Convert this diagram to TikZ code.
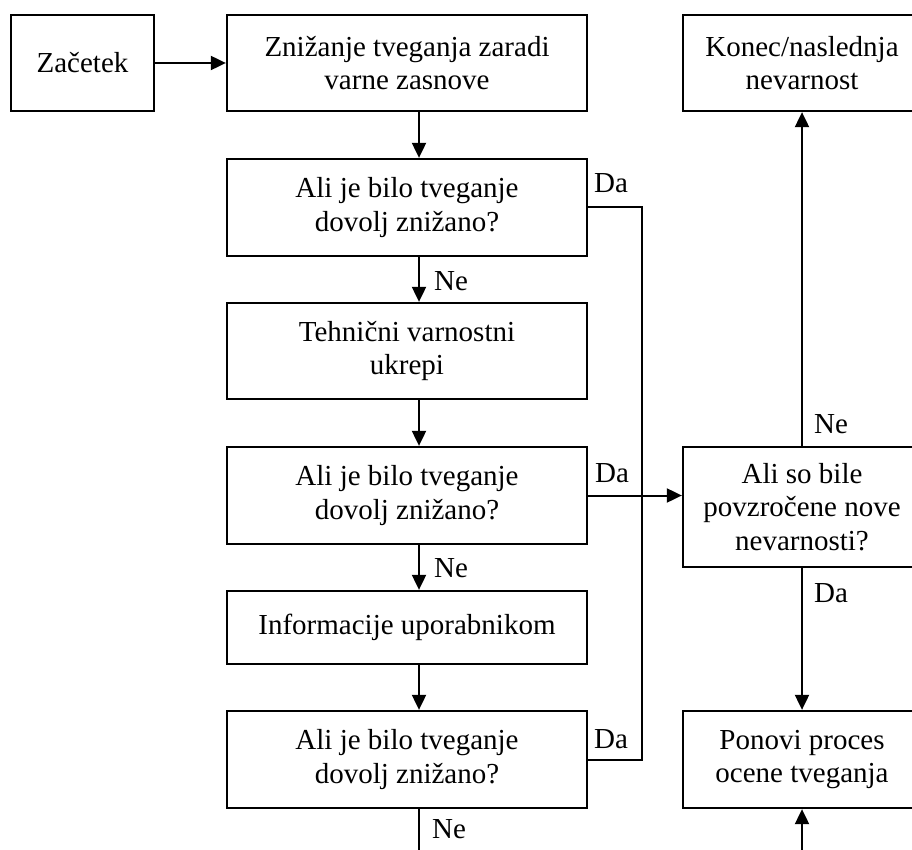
\documentclass[tikz,border=0pt]{standalone}
\usepackage{fontspec}
\setmainfont{Liberation Serif}
\usetikzlibrary{arrows.meta,calc}
\begin{document}
\begin{tikzpicture}[x=1pt,y=-1pt,
  txt/.style={font=\fontsize{29}{33.5}\selectfont},
  box/.style={draw,line width=2.3pt,inner sep=0pt,align=center,txt,minimum width=#1},
  box/.default=360pt,
  lbl/.style={inner sep=0pt,anchor=base west,txt},
  conn/.style={line width=2pt},
  arr/.style={conn,-{Triangle[length=15pt,width=14pt]}}]
\clip (0,0) rectangle (912,850);
\node[box=143pt,minimum height=96pt] (zac) at (82.5,63) {Začetek};
\node[box,minimum height=96pt] (zniz) at (407,63) {Znižanje tveganja zaradi\\varne zasnove};
\node[box,minimum height=97pt] (ali1) at (407,207.5) {Ali je bilo tveganje\\dovolj znižano?};
\node[box,minimum height=96pt] (teh) at (407,351) {Tehnični varnostni\\ukrepi};
\node[box,minimum height=97pt] (ali2) at (407,495.5) {Ali je bilo tveganje\\dovolj znižano?};
\node[box,minimum height=73pt] (info) at (407,627.5) {Informacije uporabnikom};
\node[box,minimum height=97pt] (ali3) at (407,759.5) {Ali je bilo tveganje\\dovolj znižano?};
\node[box=238pt,minimum height=96pt] (konec) at (802,63) {Konec/naslednja\\nevarnost};
\node[box=238pt,minimum height=120pt] (alisob) at (802,507) {Ali so bile\\povzročene nove\\nevarnosti?};
\node[box=238pt,minimum height=97pt] (ponovi) at (802,759.5) {Ponovi proces\\ocene tveganja};
\coordinate (ax) at (419,0);
\coordinate (vx) at (642,0);
\coordinate (endL) at (419,856);
\coordinate (startR) at (802,856);
\draw[arr] (zac.east) -- (zniz.west);
\draw[arr] (zniz.south -| ax) -- (ali1.north -| ax);
\draw[arr] (ali1.south -| ax) -- (teh.north -| ax);
\draw[arr] (teh.south -| ax) -- (ali2.north -| ax);
\draw[arr] (ali2.south -| ax) -- (info.north -| ax);
\draw[arr] (info.south -| ax) -- (ali3.north -| ax);
\draw[conn] (ali3.south -| ax) -- (endL);
\draw[conn] (ali1.east) -| (vx |- ali3.east) -- (ali3.east);
\draw[arr] (ali2.east) -- (ali2.east -| alisob.west);
\draw[arr] (alisob.north) -- (konec.south);
\draw[arr] (alisob.south) -- (ponovi.north);
\draw[arr] (startR) -- (ponovi.south);
\node[lbl] (da1) at (594,193) {Da};
\node[lbl] (ne1) at (434,290) {Ne};
\node[lbl] (da2) at (595,482) {Da};
\node[lbl] (ne2) at (434,577) {Ne};
\node[lbl] (da3) at (594,748) {Da};
\node[lbl] (ne3) at (432,838) {Ne};
\node[lbl] (ne4) at (814,433) {Ne};
\node[lbl] (da4) at (814,602) {Da};
\end{tikzpicture}
\end{document}
